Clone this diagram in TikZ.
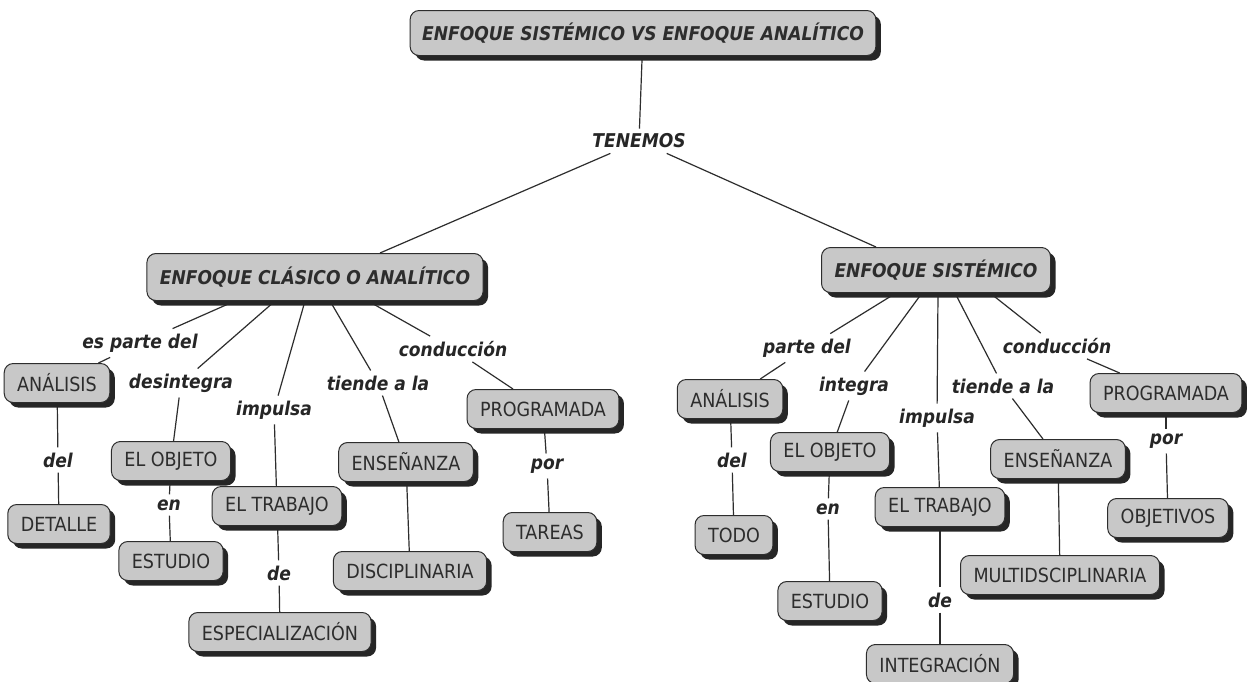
\documentclass[tikz,border=0pt]{standalone}
\usepackage{fontspec}
\setmainfont{DejaVu Sans Condensed}
\usetikzlibrary{shadows,backgrounds}
\definecolor{boxgray}{RGB}{200,200,200}
\definecolor{ink}{RGB}{45,45,45}

\begin{document}
\begin{tikzpicture}[x=1pt, y=-1pt,                              % one unit = one pixel, y runs down
    concept/.style={draw=ink, fill=boxgray, rounded corners=9pt, line width=1pt,
        text=ink, font=\fontsize{19.5}{22}\selectfont, inner xsep=13pt, minimum height=39pt,
        drop shadow={shadow xshift=5pt, shadow yshift=-5pt, fill=black!85, opacity=1}},
    head/.style={concept, font=\fontsize{19}{22}\selectfont\bfseries\itshape},
    phrase/.style={text=black!85, font=\fontsize{19}{22}\selectfont\bfseries\itshape, inner sep=5pt},
    wire/.style={draw=ink, line width=1.2pt}]
    \useasboundingbox (0,0) rectangle (1252,681);

    % top
    \node[head, minimum height=45pt, inner xsep=12pt] (titulo) at (643,33) {ENFOQUE SISTÉMICO VS ENFOQUE ANALÍTICO};
    \node[phrase] (tenemos) at (639,141) {TENEMOS};
    \node[head, minimum height=47pt] (clasico) at (315,277) {ENFOQUE CLÁSICO O ANALÍTICO};
    \node[head, minimum height=45pt] (sistemico) at (936,270) {ENFOQUE SISTÉMICO};

    % left: enfoque clasico
    \node[phrase] (lparte) at (140,343) {es parte del};
    \node[phrase] (ldesint) at (181,383) {desintegra};
    \node[phrase] (limpulsa) at (274,410) {impulsa};
    \node[phrase] (ltiende) at (378,383) {tiende a la};
    \node[phrase] (lcond) at (453,349) {conducción};
    \node[concept] (lanalisis) at (57,383) {ANÁLISIS};
    \node[concept] (lobjeto) at (171,461) {EL OBJETO};
    \node[concept] (ltrabajo) at (277,506) {EL TRABAJO};
    \node[concept] (lensenanza) at (406,462) {ENSEÑANZA};
    \node[concept] (lprogramada) at (543,409) {PROGRAMADA};
    \node[phrase] (ldel) at (58,460) {del};
    \node[phrase] (len) at (169,505) {en};
    \node[phrase] (lde) at (279,573) {de};
    \node[phrase] (lpor) at (547,466) {por};
    \node[concept] (ldetalle) at (59,524) {DETALLE};
    \node[concept] (lestudio) at (171,561) {ESTUDIO};
    \node[concept] (lespecial) at (280,632) {ESPECIALIZACIÓN};
    \node[concept] (ldiscip) at (410,571) {DISCIPLINARIA};
    \node[concept] (ltareas) at (550,532) {TAREAS};

    % right: enfoque sistemico
    \node[phrase] (rparte) at (807,348) {parte del};
    \node[phrase] (rinteg) at (854,386) {integra};
    \node[phrase] (rimpulsa) at (937,418) {impulsa};
    \node[phrase] (rtiende) at (1003,386) {tiende a la};
    \node[phrase] (rcond) at (1057,346) {conducción};
    \node[concept] (ranalisis) at (730,399) {ANÁLISIS};
    \node[concept] (robjeto) at (830,452) {EL OBJETO};
    \node[concept] (rtrabajo) at (940,507) {EL TRABAJO};
    \node[concept] (rensenanza) at (1058,459) {ENSEÑANZA};
    \node[concept] (rprogramada) at (1166,393) {PROGRAMADA};
    \node[phrase] (rdel) at (732,460) {del};
    \node[phrase] (ren) at (828,509) {en};
    \node[phrase] (rde) at (940,600) {de};
    \node[phrase] (rpor) at (1166,441) {por};
    \node[concept] (rtodo) at (734,535) {TODO};
    \node[concept] (restudio) at (830,601) {ESTUDIO};
    \node[concept] (rintegra) at (940,664) {INTEGRACIÓN};
    \node[concept] (rmulti) at (1060,575) {MULTIDSCIPLINARIA};
    \node[concept] (robjetivos) at (1168,518) {OBJETIVOS};

    \begin{pgfonlayer}{background}
    \fill[white] (0,0) rectangle (1252,681);
    \draw[wire] (titulo) -- (tenemos);
    \draw[wire] (tenemos) -- ([xshift=65pt]clasico.north);
    \draw[wire] (tenemos) -- ([xshift=-60pt]sistemico.north);

    \draw[wire] ([xshift=-80pt]clasico.south) -- (lparte);
    \draw[wire] (lparte) -- (lanalisis);
    \draw[wire] ([xshift=-40pt]clasico.south) -- (ldesint);
    \draw[wire] (ldesint) -- (lobjeto);
    \draw[wire] ([xshift=-10pt]clasico.south) -- (limpulsa);
    \draw[wire] (limpulsa) -- (ltrabajo);
    \draw[wire] ([xshift=15pt]clasico.south) -- (ltiende);
    \draw[wire] (ltiende) -- (lensenanza);
    \draw[wire] ([xshift=53pt]clasico.south) -- (lcond);
    \draw[wire] (lcond) -- (lprogramada);
    \draw[wire] (lanalisis) -- (ldel);
    \draw[wire] (ldel) -- (ldetalle);
    \draw[wire] (lobjeto) -- (len);
    \draw[wire] (len) -- (lestudio);
    \draw[wire] (ltrabajo) -- (lde);
    \draw[wire] (lde) -- (lespecial);
    \draw[wire] (lensenanza) -- (ldiscip);
    \draw[wire] (lprogramada) -- (lpor);
    \draw[wire] (lpor) -- (ltareas);

    \draw[wire] ([xshift=-40pt]sistemico.south) -- (rparte);
    \draw[wire] (rparte) -- (ranalisis);
    \draw[wire] ([xshift=-14pt]sistemico.south) -- (rinteg);
    \draw[wire] (rinteg) -- (robjeto);
    \draw[wire] ([xshift=2pt]sistemico.south) -- (rimpulsa);
    \draw[wire] (rimpulsa) -- (rtrabajo);
    \draw[wire] ([xshift=19pt]sistemico.south) -- (rtiende);
    \draw[wire] (rtiende) -- (rensenanza);
    \draw[wire] ([xshift=54pt]sistemico.south) -- (rcond);
    \draw[wire] (rcond) -- (rprogramada);
    \draw[wire] (ranalisis) -- (rdel);
    \draw[wire] (rdel) -- (rtodo);
    \draw[wire] (robjeto) -- (ren);
    \draw[wire] (ren) -- (restudio);
    \draw[wire] (rtrabajo) -- (rde);
    \draw[wire] (rde) -- (rintegra);
    \draw[wire] (rensenanza) -- (rmulti);
    \draw[wire] (rprogramada) -- (rpor);
    \draw[wire] (rpor) -- (robjetivos);
    \end{pgfonlayer}
\end{tikzpicture}
\end{document}
